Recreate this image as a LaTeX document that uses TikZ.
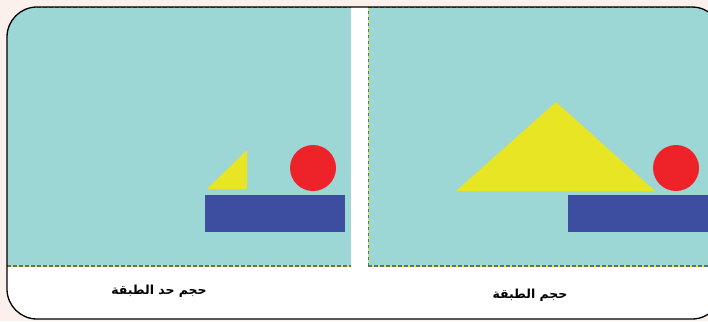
\documentclass[tikz,border=0pt]{standalone}
\usepackage{fontspec}
\newfontfamily\arabicfont[Script=Arabic]{DejaVu Sans}
\TeXXeTstate=1
\usetikzlibrary{positioning}
\definecolor{layerbg}{HTML}{9DD7D5}
\definecolor{shapeyellow}{HTML}{E8E524}
\definecolor{shapered}{HTML}{EE2229}
\definecolor{shapeblue}{HTML}{3D4DA0}
\definecolor{pagepink}{HTML}{FCF0ED}
\definecolor{edgegray}{HTML}{5F6F78}
\tikzset{
  layeredge/.style={draw=shapeyellow, line width=1.5bp,
    postaction={draw=edgegray, line width=1.5bp, dash pattern=on 3.5bp off 2.5bp}},
  caption/.style={font=\arabicfont\bfseries\fontsize{12.5}{15}\selectfont, inner sep=1bp},
}
\begin{document}
\begin{tikzpicture}[x=1bp, y=-1bp]
\useasboundingbox (0,0) rectangle (708,321);
\clip (0,0) rectangle (708,321);
\fill[pagepink] (0,0) rectangle (708,321);
% frame
\fill[white, rounded corners=30bp] (7,7) rectangle (722,319);
\begin{scope}
  \clip[rounded corners=30bp] (7,7) rectangle (722,319);
  % left layer: boundary size
  \fill[layerbg] (7,7) rectangle (351,266);
  \draw[layeredge] (7,266) -- (351,266);
  \draw[layeredge] (7,7.5) -- (351,7.5);
  \fill[shapeyellow, rounded corners=1bp] (207,189) -- (247,150) -- (247,189) -- cycle;
  \fill[shapered] (313,168) circle (23);
  \fill[shapeblue] (205,195) rectangle (345,232);
  % right layer: layer size
  \fill[layerbg] (368,7) rectangle (722,266);
  \draw[layeredge] (368.5,266) -- (368.5,7);
  \draw[layeredge] (368,266) -- (722,266);
  \draw[layeredge] (368,7.5) -- (722,7.5);
  \fill[shapeyellow] (456,191) -- (556,102) -- (655,191) -- cycle;
  \fill[shapered] (676,168) circle (23);
  \fill[shapeblue] (568,195) rectangle (722,232);
\end{scope}
\draw[black, line width=1.3bp, rounded corners=30bp] (7,7) rectangle (722,319);
% captions
\node[caption] (boundcap) at (159,291) {\beginR حجم حد الطبقة\endR};
\node[caption] (layercap) at (530,295) {\beginR حجم الطبقة\endR};
\end{tikzpicture}
\end{document}
